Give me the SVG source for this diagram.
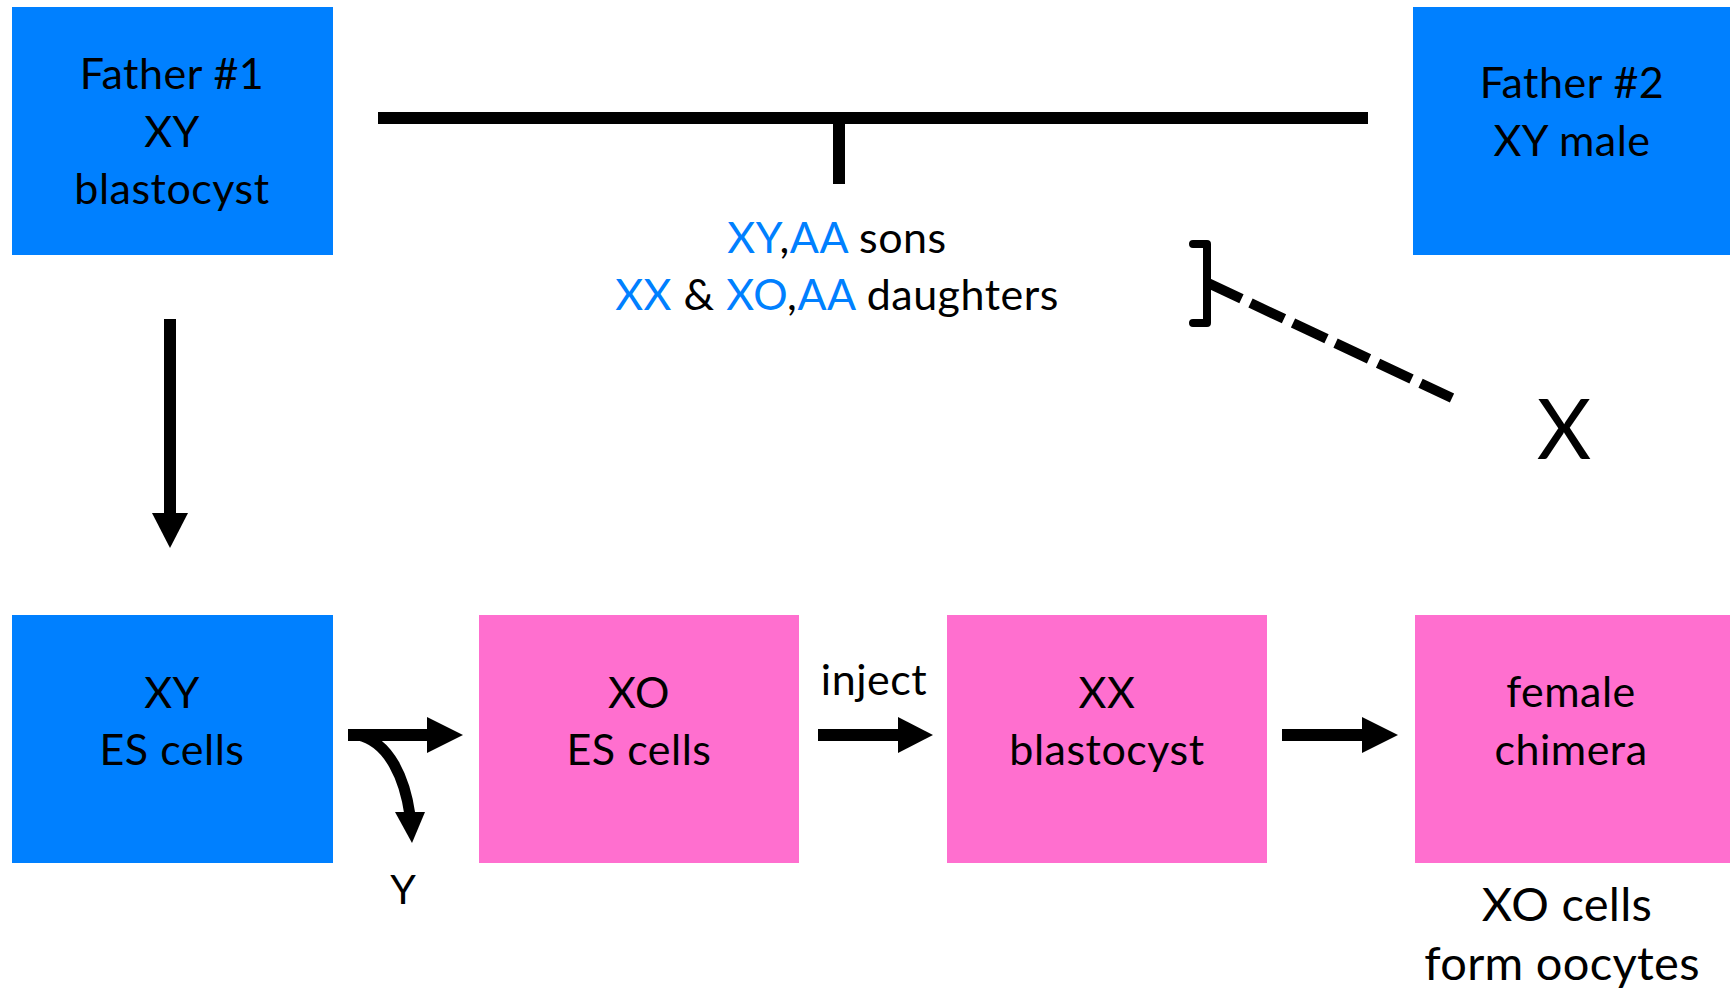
<svg xmlns="http://www.w3.org/2000/svg" width="1730" height="995" viewBox="0 0 1730 995">
  <style>
    .blue { fill: #0080ff; }
    .pink { fill: #ff6fcf; }
    text { font-family: Lato, "Liberation Sans", sans-serif; font-size: 43px; letter-spacing: 0.5px; fill: #000; text-anchor: middle; }
    .hl { fill: #0080ff; }
    .big { font-size: 47px; letter-spacing: 0.3px; }
    .wire { stroke: #000; fill: none; }
    .head { fill: #000; }
  </style>
  <rect width="1730" height="995" fill="#fff"/>

  <g id="father1">
    <rect class="blue" x="12" y="7" width="321" height="248"/>
    <text x="172" y="89">Father #1</text>
    <text x="172" y="147">XY</text>
    <text x="172" y="204">blastocyst</text>
  </g>

  <g id="father2">
    <rect class="blue" x="1413" y="7" width="317" height="248"/>
    <text x="1572" y="98">Father #2</text>
    <text x="1572" y="156">XY male</text>
  </g>

  <g id="offspring">
    <text x="837" y="253"><tspan class="hl">XY</tspan>,<tspan class="hl">AA</tspan> sons</text>
    <text x="837" y="310"><tspan class="hl">XX</tspan> &amp; <tspan class="hl">XO</tspan>,<tspan class="hl">AA</tspan> daughters</text>
  </g>

  <g id="cross-x">
    <text x="1564" y="459" style="font-size:84px;letter-spacing:0">X</text>
  </g>

  <g id="xy-es">
    <rect class="blue" x="12" y="615" width="321" height="248"/>
    <text x="172" y="708">XY</text>
    <text x="172" y="765">ES cells</text>
  </g>

  <g id="xo-es">
    <rect class="pink" x="479" y="615" width="320" height="248"/>
    <text x="639" y="708">XO</text>
    <text x="639" y="765">ES cells</text>
  </g>

  <g id="xx-blast">
    <rect class="pink" x="947" y="615" width="320" height="248"/>
    <text x="1107" y="708">XX</text>
    <text x="1107" y="765">blastocyst</text>
  </g>

  <g id="chimera">
    <rect class="pink" x="1415" y="615" width="315" height="248"/>
    <text x="1571" y="707">female</text>
    <text x="1571" y="765">chimera</text>
  </g>

  <g id="oocytes">
    <text class="big" x="1567" y="921">XO cells</text>
    <text class="big" x="1562" y="980">form oocytes</text>
  </g>

  <g id="y-label">
    <text x="403" y="904" style="font-size:41px;letter-spacing:0">Y</text>
  </g>

  <g id="inject-label">
    <text x="874" y="695">inject</text>
  </g>

  <g id="connectors">
    <!-- mating bar with offspring stub -->
    <line class="wire" x1="378" y1="118" x2="1368" y2="118" stroke-width="12"/>
    <line class="wire" x1="839" y1="118" x2="839" y2="184" stroke-width="12"/>

    <!-- bracket and dashed back-cross -->
    <path class="wire" d="M1193,244 H1207 V323 H1193" stroke-width="8" stroke-linejoin="round" stroke-linecap="round"/>
    <line class="wire" x1="1208" y1="283" x2="1452" y2="398" stroke-width="10" stroke-dasharray="37 10"/>

    <!-- derive ES cells -->
    <line class="wire" x1="170" y1="319" x2="170" y2="515" stroke-width="12"/>
    <polygon class="head" points="152,513 188,513 170,548"/>

    <!-- Y loss -->
    <line class="wire" x1="348" y1="735" x2="429" y2="735" stroke-width="12"/>
    <polygon class="head" points="427,717 463,735 427,753"/>
    <path class="wire" d="M358,735 C390,742 405,780 410,815" stroke-width="11"/>
    <polygon class="head" points="395,812 425,812 412,843"/>

    <!-- inject -->
    <line class="wire" x1="818" y1="735" x2="900" y2="735" stroke-width="12"/>
    <polygon class="head" points="898,717 933,735 898,753"/>

    <!-- develop -->
    <line class="wire" x1="1282" y1="735" x2="1364" y2="735" stroke-width="12"/>
    <polygon class="head" points="1362,717 1398,735 1362,753"/>
  </g>
</svg>
